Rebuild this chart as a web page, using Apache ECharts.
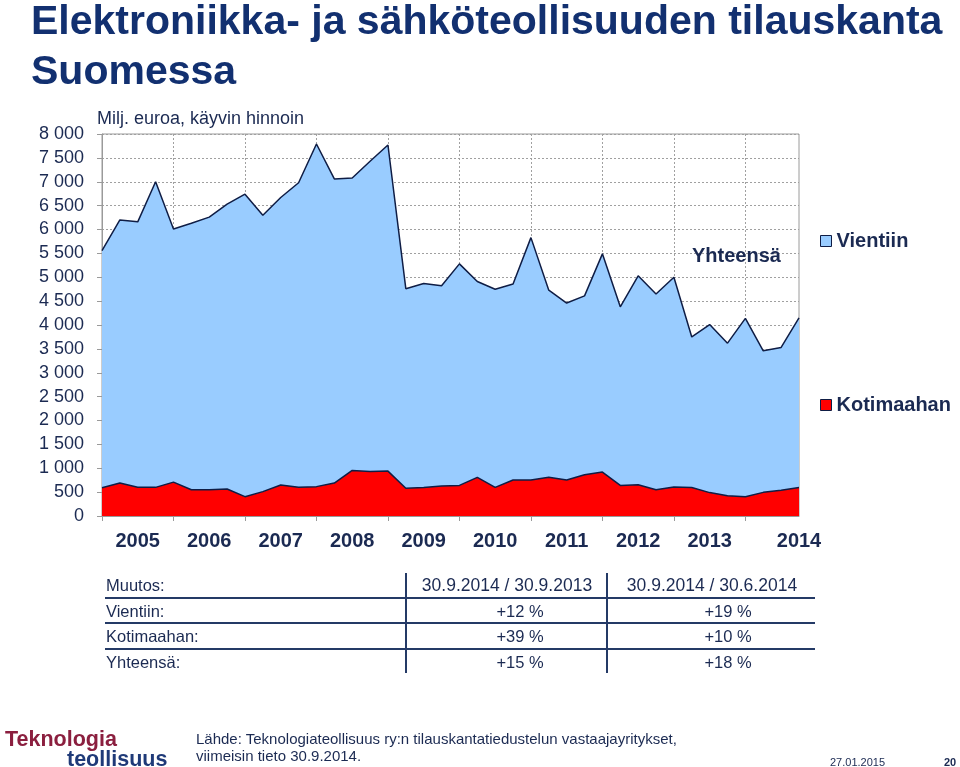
<!DOCTYPE html>
<html>
<head>
<meta charset="utf-8">
<script src="https://cdn.jsdelivr.net/npm/echarts@6.0.0/dist/echarts.min.js"></script>
<style>
  body { margin: 0; background: #fff; font-family: "Liberation Sans", Arial, sans-serif; }
  #chart { position: absolute; left: 0; top: 0; width: 960px; height: 767px; }
  .t { position: absolute; color: #1b2a52; font-size: 16.5px; line-height: 20px; white-space: nowrap; }
  .hl { position: absolute; left: 105px; width: 710px; height: 2px; background: #243a66; }
  .vl { position: absolute; top: 573px; width: 2px; height: 100px; background: #243a66; }
  .c1 { width: 200px; text-align: center; }
</style>
</head>
<body>
<div id="chart"></div>

<!-- muutostaulukko -->
<div class="t" style="left:106px;top:575px">Muutos:</div>
<div class="t" style="left:106px;top:601px">Vientiin:</div>
<div class="t" style="left:106px;top:626px">Kotimaahan:</div>
<div class="t" style="left:106px;top:652px">Yhteensä:</div>
<div class="t c1" style="left:407px;top:575px;font-size:17.5px">30.9.2014 / 30.9.2013</div>
<div class="t c1" style="left:612px;top:575px;font-size:17.5px">30.9.2014 / 30.6.2014</div>
<div class="t c1" style="left:420px;top:601px">+12 %</div>
<div class="t c1" style="left:420px;top:626px">+39 %</div>
<div class="t c1" style="left:420px;top:652px">+15 %</div>
<div class="t c1" style="left:628px;top:601px">+19 %</div>
<div class="t c1" style="left:628px;top:626px">+10 %</div>
<div class="t c1" style="left:628px;top:652px">+18 %</div>
<div class="hl" style="top:597px"></div>
<div class="hl" style="top:622px"></div>
<div class="hl" style="top:648px"></div>
<div class="vl" style="left:405px"></div>
<div class="vl" style="left:606px"></div>

<!-- alatunniste -->
<div style="position:absolute;left:5px;top:729px;font-size:21.5px;font-weight:bold;color:#8b1f3f;line-height:20px">Teknologia</div>
<div style="position:absolute;left:67px;top:749px;font-size:21.5px;font-weight:bold;color:#1f3a78;line-height:20px">teollisuus</div>
<div class="t" style="left:196px;top:730px;font-size:15px;line-height:17px">Lähde: Teknologiateollisuus ry:n tilauskantatiedustelun vastaajayritykset,<br>viimeisin tieto 30.9.2014.</div>
<div class="t" style="left:830px;top:752px;font-size:11px">27.01.2015</div>
<div class="t" style="left:944px;top:752px;font-size:11px;font-weight:bold">20</div>

<script>
// neljännekset 31.12.2004 ... 30.9.2014
const quarters = [
  "12/2004",
  "3/2005", "6/2005", "9/2005", "12/2005",
  "3/2006", "6/2006", "9/2006", "12/2006",
  "3/2007", "6/2007", "9/2007", "12/2007",
  "3/2008", "6/2008", "9/2008", "12/2008",
  "3/2009", "6/2009", "9/2009", "12/2009",
  "3/2010", "6/2010", "9/2010", "12/2010",
  "3/2011", "6/2011", "9/2011", "12/2011",
  "3/2012", "6/2012", "9/2012", "12/2012",
  "3/2013", "6/2013", "9/2013", "12/2013",
  "3/2014", "6/2014", "9/2014"
];

// Milj. euroa
const kotimaahan = [
  590, 690, 600, 600, 710, 550, 550, 565, 405, 510,
  650, 600, 615, 690, 955, 930, 940, 580, 595, 630,
  640, 810, 600, 755, 755, 810, 755, 865, 920, 640,
  655, 550, 605, 595, 490, 425, 405, 495, 540, 595
];
const vientiin = [
  4970, 5510, 5560, 6400, 5300, 5580, 5710, 5965, 6335, 5790,
  6020, 6380, 7175, 6370, 6125, 6500, 6830, 4180, 4275, 4190,
  4640, 4100, 4150, 4105, 5075, 3920, 3705, 3745, 4570, 3740,
  4375, 4100, 4395, 3155, 3520, 3195, 3735, 2965, 2990, 3555
];

const navy = "#1b2a52";
const outline = "#0f1d45";
const font = "'Liberation Sans', Arial, sans-serif";

const chart = echarts.init(document.getElementById("chart"), null, { renderer: "canvas" });

chart.setOption({
  animation: false,
  textStyle: { fontFamily: font },
  title: [
    {
      text: "Elektroniikka- ja sähköteollisuuden tilauskanta\nSuomessa",
      left: 31, top: -2, padding: 0,
      textStyle: { fontSize: 41, lineHeight: 50, fontWeight: "bold", color: "#123070", fontFamily: font }
    },
    {
      text: "Milj. euroa, käyvin hinnoin",
      left: 97, top: 109, padding: 0,
      textStyle: { fontSize: 18, lineHeight: 20, fontWeight: "normal", color: navy, fontFamily: font }
    },
    {
      text: "Yhteensä",
      left: 692, top: 245, padding: 0,
      textStyle: { fontSize: 20, lineHeight: 22, fontWeight: "bold", color: navy, fontFamily: font }
    }
  ],
  legend: [
    {
      data: ["Vientiin"], left: 820, top: 231, padding: 0,
      icon: "rect", itemWidth: 11, itemHeight: 11, itemGap: 4,
      itemStyle: { borderColor: outline, borderWidth: 1 },
      textStyle: { fontSize: 20, fontWeight: "bold", color: navy, fontFamily: font }
    },
    {
      data: ["Kotimaahan"], left: 820, top: 395, padding: 0,
      icon: "rect", itemWidth: 11, itemHeight: 11, itemGap: 4,
      itemStyle: { borderColor: outline, borderWidth: 1 },
      textStyle: { fontSize: 20, fontWeight: "bold", color: navy, fontFamily: font }
    }
  ],
  grid: {
    left: 102, top: 134, width: 697, height: 382,
    containLabel: false, outerBoundsMode: "none",
    show: true, borderColor: "#9a9a9a", borderWidth: 1, backgroundColor: "transparent"
  },
  xAxis: {
    type: "category",
    data: quarters,
    boundaryGap: false,
    axisLine: { lineStyle: { color: "#9a9a9a", width: 1 } },
    axisTick: { interval: (i) => i % 4 === 0, length: 5, lineStyle: { color: "#9a9a9a" } },
    axisLabel: {
      interval: (i) => i === 39 || (i % 4 === 2 && i < 38),
      formatter: (v) => v.split("/")[1],
      margin: 15, fontSize: 20, fontWeight: "bold", color: navy, fontFamily: font
    },
    splitLine: {
      show: true,
      interval: (i) => i % 4 === 0 && i > 0,
      lineStyle: { color: "#a0a0a0", type: [2, 2], width: 1 }
    }
  },
  yAxis: {
    type: "value",
    min: 0, max: 8000, interval: 500,
    axisLine: { show: true, lineStyle: { color: "#9a9a9a", width: 1 } },
    axisTick: { show: true, length: 5, lineStyle: { color: "#9a9a9a" } },
    axisLabel: {
      margin: 18, fontSize: 18, color: navy, fontFamily: font,
      formatter: (v) => String(v).replace(/\B(?=(\d{3})+(?!\d))/g, " ")
    },
    splitLine: { show: true, lineStyle: { color: "#a0a0a0", type: [2, 2], width: 1 } }
  },
  series: [
    {
      name: "Kotimaahan",
      type: "line",
      stack: "yht",
      data: kotimaahan,
      symbol: "none",
      itemStyle: { color: "#ff0000", borderColor: outline },
      lineStyle: { color: outline, width: 1.5 },
      areaStyle: { color: "#ff0000", opacity: 1 },
      z: 3
    },
    {
      name: "Vientiin",
      type: "line",
      stack: "yht",
      data: vientiin,
      symbol: "none",
      itemStyle: { color: "#99ccff", borderColor: outline },
      lineStyle: { color: outline, width: 1.5 },
      areaStyle: { color: "#99ccff", opacity: 1 },
      z: 2
    }
  ]
});
</script>
</body>
</html>
